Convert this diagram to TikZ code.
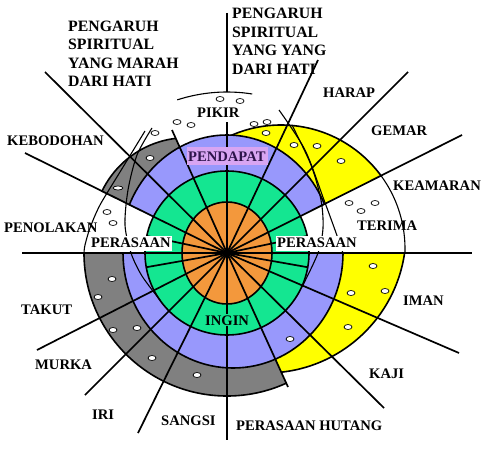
\documentclass[tikz,border=0pt]{standalone}
\usepackage{fontspec}
\setmainfont{Liberation Serif}
\definecolor{cgray}{RGB}{128,128,128}
\definecolor{cblue}{RGB}{152,152,252}
\definecolor{cgreen}{RGB}{20,230,145}
\definecolor{corange}{RGB}{243,152,60}
\definecolor{cyellow}{RGB}{255,255,0}
\definecolor{cviolet}{RGB}{216,165,242}
\definecolor{cpurp}{RGB}{45,20,75}
\newcommand\mysector[2]{(227,195) -- ++(#1:420) arc[start angle=#1, end angle=#2, radius=420] -- cycle}
\begin{document}
\begin{tikzpicture}[x=1pt,y=1pt,line join=round]
\tikzset{
  ring/.style={draw=black, line width=1.6pt},
  spoke/.style={draw=black, line width=1.7pt},
  thinarc/.style={draw=black, line width=1.1pt},
  lbl/.style={font=\fontsize{14.6}{17}\selectfont\bfseries, inner sep=0pt, anchor=base west},
  biglbl/.style={font=\fontsize{15.8}{18}\selectfont\bfseries, inner sep=0pt, anchor=base west},
  bub/.style={fill=white, draw=black, line width=0.7pt},
}
\useasboundingbox (0,0) rectangle (486,448);
\fill[white] (0,0) rectangle (486,448);
\coordinate (C) at (227,195);
% gray upper
\begin{scope}
  \clip \mysector{114}{154};
  \fill[cgray] (187,216) circle[radius=94.3];
  \draw[ring] (187,216) circle[radius=94.3];
\end{scope}
% yellow upper
\begin{scope}
  \clip \mysector{26.7}{100};
  \fill[cyellow] (281,199) circle[radius=124];
  \draw[ring] (281,199) circle[radius=124];
\end{scope}
\begin{scope}
  \clip \mysector{0}{26.7};
  \draw[thinarc] (281,199) circle[radius=124];
\end{scope}
% gray lower
\begin{scope}
  \clip \mysector{180}{294.5};
  \fill[cgray] (C) circle[radius=143];
  \draw[ring] (C) circle[radius=143];
\end{scope}
% yellow lower
\begin{scope}
  \clip \mysector{294.5}{360};
  \fill[cyellow] (266,215) circle[radius=140];
  \draw[ring] (266,215) circle[radius=140];
\end{scope}
% blue upper and lower
\begin{scope}
  \clip \mysector{26.7}{154};
  \fill[cblue] (C) ellipse[x radius=107, y radius=118];
  \draw[ring] (C) ellipse[x radius=107, y radius=118];
\end{scope}
\begin{scope}
  \clip \mysector{180}{360};
  \fill[cblue] (233,195) ellipse[x radius=110, y radius=115];
  \draw[ring] (233,195) ellipse[x radius=110, y radius=115];
\end{scope}
% green and orange
\fill[cgreen] (C) circle[radius=82];
\draw[ring] (C) circle[radius=82];
\fill[corange] (C) ellipse[x radius=45, y radius=51];
\draw[ring] (C) ellipse[x radius=45, y radius=51];
% thin arcs
\draw[thinarc] plot[smooth] coordinates {(152,320) (137,293) (128,258) (125,223) (131,195) (142,172) (160,148)};
\draw[thinarc] plot[smooth] coordinates {(145,317) (120,276) (100,243) (90,220) (85,203) (84,195)};
\draw[thinarc] plot[smooth] coordinates {(292,323) (311,283) (321,248) (323,220) (318,195) (302,161)};
\draw[thinarc] plot[smooth] coordinates {(279,338) (305,298) (324,248) (335,218) (343,195)};
\draw[thinarc] (C) ++(108:161) arc[start angle=108, end angle=81, radius=161];
% spokes
\draw[spoke] (22,195) -- (472,195);
\draw[spoke] (C) -- (45,376);
\draw[spoke] (C) -- (25,295);
\draw[spoke] (C) -- (172,318);
\draw[spoke] (C) -- (227,326);
\draw[spoke] (227,435) -- (227,356);
\draw[spoke] (C) -- (318,388);
\draw[spoke] (C) -- (408,376);
\draw[spoke] (C) -- (462,313);
\draw[spoke] (C) -- (37,98);
\draw[spoke] (C) -- (85,53);
\draw[spoke] (C) -- (138,15);
\draw[spoke] (C) -- (227,8);
\draw[spoke] (C) -- (288,61);
\draw[spoke] (C) -- (384,40);
\draw[spoke] (C) -- (459,95);
\draw[spoke] (C) -- ++(168:82);
\draw[spoke] (C) -- ++(12:82);
\draw[spoke] (C) -- ++(190:82);
\draw[spoke] (C) -- ++(350:82);
% bubbles
\foreach \p in {(220,349),(240,347),(177,326),(191,323),(155,315),(150,290),(107,236),(113,225),
  (254,324),(267,326),(266,315),(294,303),(317,302),(341,287),(349,245),(375,245),(361,237),
  (112,169),(98,151),(113,118),(137,120),(152,90),(197,73),
  (373,182),(351,155),(385,157),(348,121),(290,109)}
  \draw[bub] \p ellipse[x radius=4, y radius=2.5];
\draw[bub] (118,260) ellipse[x radius=5, y radius=2];
% labels
\node[biglbl] (m1) at (68,416.3) {PENGARUH};
\node[biglbl] (m2) at (68,398) {SPIRITUAL};
\node[biglbl] (m3) at (68,379.7) {YANG MARAH};
\node[biglbl] (m4) at (68,361.3) {DARI HATI};
\node[biglbl] (y1) at (232,429) {PENGARUH};
\node[biglbl] (y2) at (232,410.5) {SPIRITUAL};
\node[biglbl] (y3) at (232,392) {YANG YANG};
\node[biglbl] (y4) at (232,373.5) {DARI HATI};
\node[lbl] (pikir) at (197,331) {PIKIR};
\fill[cviolet] (187,283) rectangle (268,301);
\node[lbl, text=cpurp] (pendapat) at (188,287) {PENDAPAT};
\node[lbl] (harap) at (323,351) {HARAP};
\node[lbl] (gemar) at (371,313) {GEMAR};
\node[lbl] (keamaran) at (393,258) {KEAMARAN};
\node[lbl] (terima) at (357,218) {TERIMA};
\node[lbl, fill=white, inner xsep=1pt, inner ysep=1pt, text depth=3pt] (perR) at (276,201) {PERASAAN};
\node[lbl, fill=white, inner xsep=1pt, inner ysep=1pt, text depth=3pt] (perL) at (90,201) {PERASAAN};
\node[lbl] (penolakan) at (4,216) {PENOLAKAN};
\node[lbl] (kebodohan) at (7,303) {KEBODOHAN};
\node[lbl] (takut) at (21,134) {TAKUT};
\node[lbl] (murka) at (35,79) {MURKA};
\node[lbl] (iri) at (92,29) {IRI};
\node[lbl] (sangsi) at (161,23) {SANGSI};
\node[lbl] (hutang) at (236,18) {PERASAAN HUTANG};
\node[lbl, fill=cgreen, inner xsep=1pt, inner ysep=1pt] (ingin) at (204,123) {INGIN};
\node[lbl] (iman) at (403,143) {IMAN};
\node[lbl] (kaji) at (369,70) {KAJI};
\end{tikzpicture}
\end{document}
